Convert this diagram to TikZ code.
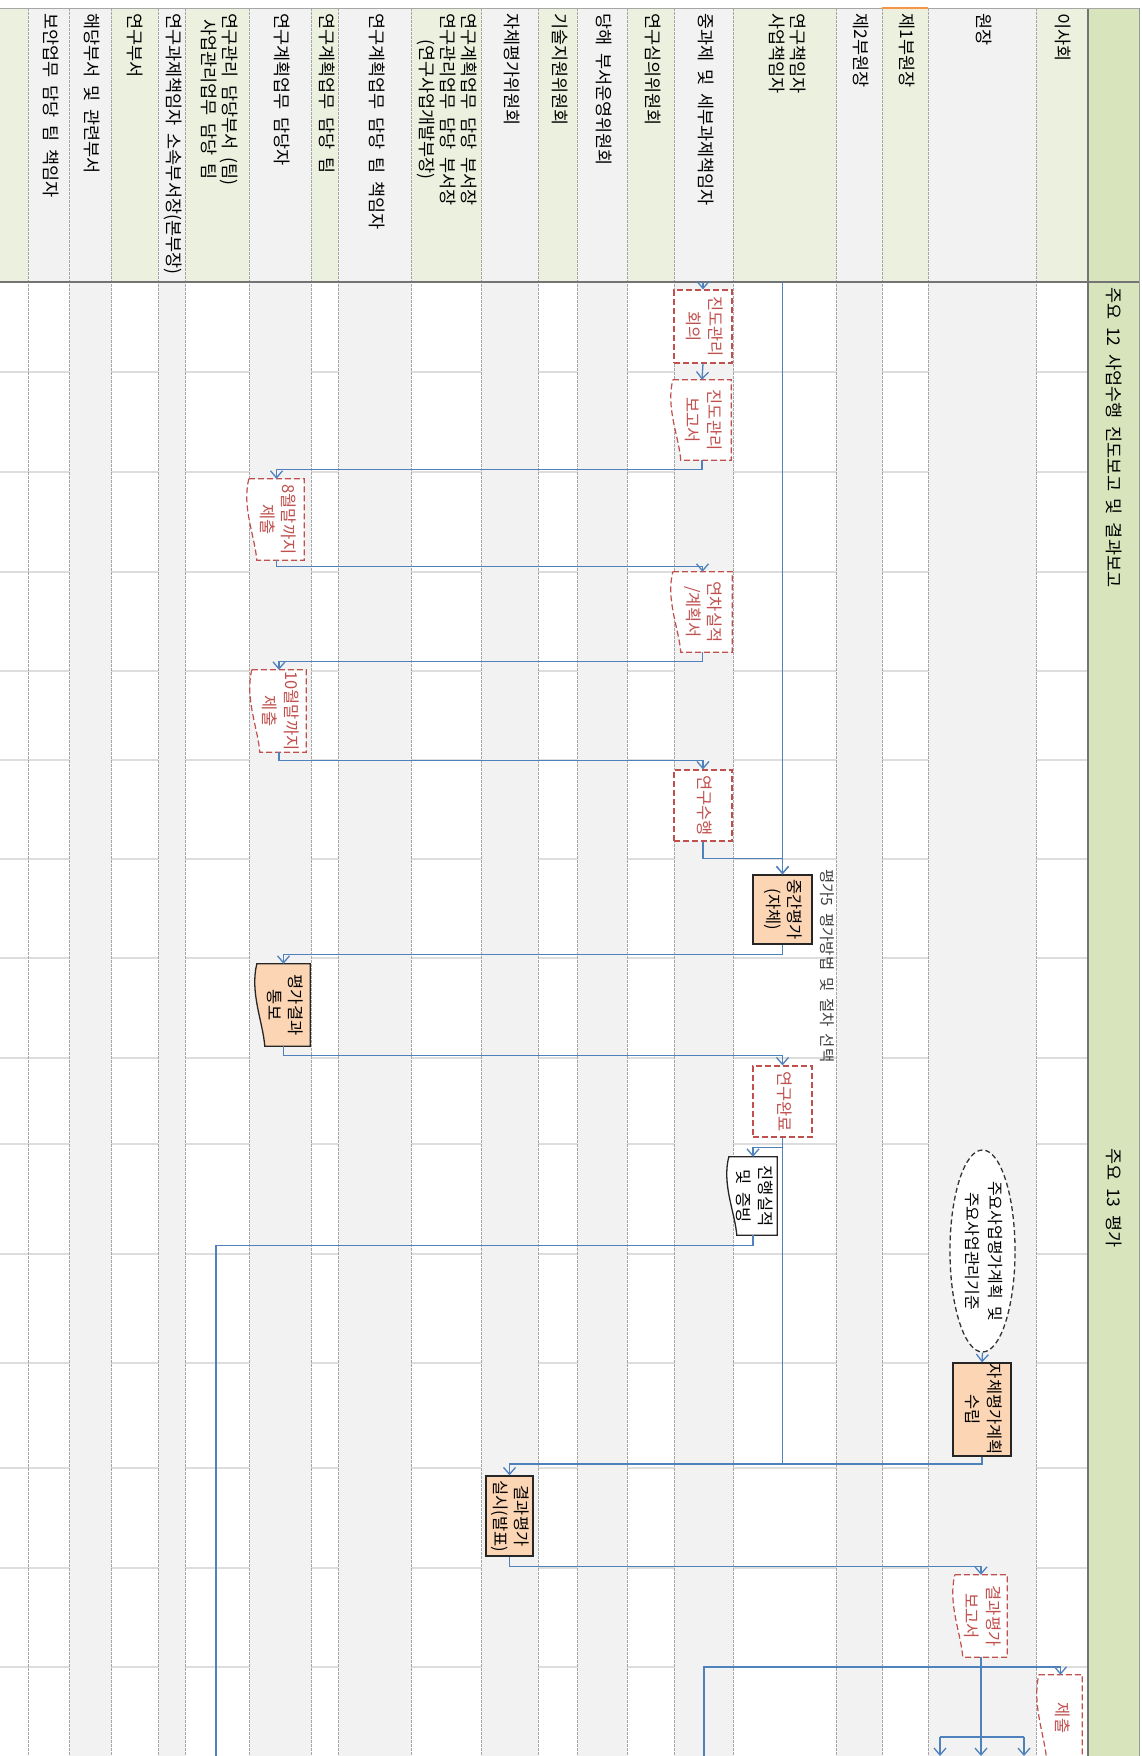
\documentclass[tikz,border=0pt]{standalone}
\usepackage{graphicx}
\usepackage{fontspec}
\newfontfamily\kr[WordSpace=2]{Noto Sans CJK KR}
\usetikzlibrary{arrows.meta,shapes.geometric,calc}
\definecolor{hdrgreen}{HTML}{EBF1DE}
\definecolor{lanegray}{HTML}{F2F2F2}
\definecolor{colgreen}{HTML}{D7E4BC}
\definecolor{rowline}{HTML}{DDDDDD}
\definecolor{laneline}{HTML}{A6A6A6}
\definecolor{flowblue}{HTML}{4F81BD}
\definecolor{redline}{HTML}{C0504D}
\definecolor{orangefill}{HTML}{FCD5B4}
\definecolor{selorange}{HTML}{F79646}
\newcommand{\vtext}[1]{\rotatebox{-90}{\begin{tabular}{@{}c@{}}#1\end{tabular}}}
\newcommand{\docpath}[1]{(#1.north west) -- (#1.north east) -- (#1.south east) -- ([xshift=8pt]#1.south west) .. controls ($(#1.south west)!0.3!(#1.north west)+(6,0)$) and ($(#1.south west)!0.65!(#1.north west)+(-7,0)$) .. (#1.north west) -- cycle}
\pgfdeclarelayer{lanes}
\pgfdeclarelayer{shapes}
\pgfsetlayers{lanes,shapes,main}
\begin{document}
\begin{tikzpicture}[x=1pt,y=-1pt,
  lanelabel/.style={anchor=north, inner sep=0pt, font=\kr\fontsize{17.5}{21}\selectfont, text=black},
  boxtext/.style={inner sep=0pt, font=\kr\fontsize{16.5}{21.5}\selectfont},
  redbox/.style={boxtext, draw=redline, dash pattern=on 6pt off 3pt, line width=1.2pt, fill=white, text=redline},
  orangebox/.style={boxtext, draw=black!85, line width=1.3pt, fill=orangefill, text=black},
  reddoc/.style={boxtext, text=redline, append after command={\pgfextra{\begin{pgfonlayer}{shapes}\filldraw[fill=white, draw=redline, dash pattern=on 6pt off 3pt, line width=1.2pt] \docpath{\tikzlastnode};\end{pgfonlayer}}}},
  blackdoc/.style={boxtext, text=black, append after command={\pgfextra{\begin{pgfonlayer}{shapes}\filldraw[fill=#1, draw=black!85, line width=1.3pt] \docpath{\tikzlastnode};\end{pgfonlayer}}}},
  flow/.style={draw=flowblue, line width=1.3pt, -{Straight Barb[length=7pt,width=12pt]}},
  flowline/.style={draw=flowblue, line width=1.3pt}]
\useasboundingbox (0,0) rectangle (1142,1756);
\begin{pgfonlayer}{lanes}
\fill[white] (0,0) rectangle (1142,1756);
\foreach \a/\b in {0/28,111/158,185/249,311/338,411/481,538/577,627/674,733/836,882/928,1036/1088}
  \fill[hdrgreen] (\a,8) rectangle (\b,282);
\foreach \a/\b in {28/69,69/111,158/185,249/311,338/411,481/538,577/627,674/733,836/882,928/1036}
  \fill[lanegray] (\a,8) rectangle (\b,282);
\foreach \y in {372,472,572,671,760,859,958,1058,1144,1254,1363,1468,1568,1667}
  \draw[rowline, line width=1.2pt] (0,\y) -- (1088,\y);
\foreach \a/\b in {69/111,158/185,249/311,338/411,481/538,577/627,674/733,836/882,928/1036}
  \fill[lanegray] (\a,282) rectangle (\b,1756);
\foreach \x in {28,69,111,158,185,249,311,338,411,481,538,577,627,674,733,836,882,928,1036}
  \draw[laneline, dash pattern=on 2.5pt off 1.5pt, line width=1pt] (\x,8) -- (\x,1756);
\fill[colgreen] (1088,8) rectangle (1139,1756);
\draw[black!55, line width=1.6pt] (1088,8) -- (1088,1756);
\draw[black!40, line width=0.8pt] (1139,8) -- (1139,1756);
\draw[black!55, line width=2pt] (0,282) -- (1139,282);
\draw[black!35, line width=1pt] (0,8) -- (1139,8);
\draw[selorange, line width=1.5pt] (882,8) -- (928,8);
\end{pgfonlayer}

% lane labels
\node[lanelabel] (l1) at (48.5,13) {\vtext{보안업무 담당 팀 책임자}};
\node[lanelabel] (l2) at (90,13) {\vtext{해당부서 및 관련부서}};
\node[lanelabel] (l3) at (133,13) {\vtext{연구부서}};
\node[lanelabel] (l4) at (171.5,13) {\vtext{연구과제책임자 소속부서장(본부장)}};
\node[lanelabel] (l5) at (217,13) {\vtext{연구관리 담당부서 (팀)\\사업관리업무 담당 팀}};
\node[lanelabel] (l6) at (280,13) {\vtext{연구계획업무 담당자}};
\node[lanelabel] (l7) at (324.5,13) {\vtext{연구계획업무 담당 팀}};
\node[lanelabel] (l8) at (374.5,13) {\vtext{연구계획업무 담당 팀 책임자}};
\node[lanelabel] (l9) at (446,13) {\vtext{연구계획업무 담당 부서장\\연구관리업무 담당 부서장\\(연구사업개발부장)}};
\node[lanelabel] (l10) at (510,13) {\vtext{자체평가위원회}};
\node[lanelabel] (l11) at (558,13) {\vtext{기술지원위원회}};
\node[lanelabel] (l12) at (602,13) {\vtext{당해 부서운영위원회}};
\node[lanelabel] (l13) at (650.5,13) {\vtext{연구심의위원회}};
\node[lanelabel] (l14) at (703.5,13) {\vtext{중과제 및 세부과제책임자}};
\node[lanelabel] (l15) at (785,13) {\vtext{연구책임자\\사업책임자}};
\node[lanelabel] (l16) at (859,13) {\vtext{제2부원장}};
\node[lanelabel] (l17) at (905,13) {\vtext{제1부원장}};
\node[lanelabel] (l18) at (982,13) {\vtext{원장}};
\node[lanelabel] (l19) at (1061,13) {\vtext{이사회}};

% phase labels
\node[lanelabel] (p1) at (1112,287) {\vtext{주요 12 사업수행 진도보고 및 결과보고}};
\node[lanelabel] (p2) at (1112,1148) {\vtext{주요 13 평가}};

% process nodes
\node[redbox, minimum width=58pt, minimum height=73pt] (n1) at (703,326.5) {\vtext{진도관리\\회의}};
\node[reddoc, minimum width=58pt, minimum height=80pt] (n2) at (702,420) {\vtext{진도관리\\보고서}};
\node[reddoc, minimum width=55pt, minimum height=81pt] (n3) at (276.5,519.5) {\vtext{8월말까지\\제출}};
\node[reddoc, minimum width=59pt, minimum height=80pt] (n4) at (702.5,612) {\vtext{연차실적\\/계획서}};
\node[reddoc, minimum width=54pt, minimum height=82pt] (n5) at (279,711) {\vtext{10월말까지\\제출}};
\node[redbox, minimum width=58pt, minimum height=71pt] (n6) at (703,805.5) {\vtext{연구수행}};
\node[orangebox, minimum width=59pt, minimum height=69pt] (n7) at (782.5,909.5) {\vtext{중간평가\\(자체)}};
\node[anchor=north, inner sep=0pt, font=\kr\fontsize{15.5}{18}\selectfont, text=black!75] (lbl) at (825,869) {\vtext{평가5 평가방법 및 절차 선택}};
\node[blackdoc=orangefill, minimum width=53pt, minimum height=82pt] (n8) at (283.5,1005) {\vtext{평가결과\\통보}};
\node[redbox, minimum width=59pt, minimum height=71pt] (n9) at (782.5,1101.5) {\vtext{연구완료}};
\node[blackdoc=white, minimum width=48pt, minimum height=78pt] (n10) at (753,1196) {\vtext{진행실적\\및 증빙}};
\node[ellipse, draw=black!80, dash pattern=on 5pt off 3pt, line width=1.3pt, fill=white, minimum width=59pt, minimum height=202pt, inner sep=0pt, font=\kr\fontsize{16}{23}\selectfont] (n11) at (982.5,1251) {\vtext{주요사업평가계획 및\\주요사업관리기준}};
\node[orangebox, minimum width=58pt, minimum height=93pt] (n12) at (982,1409.5) {\vtext{자체평가계획\\수립}};
\node[orangebox, minimum width=47pt, minimum height=80pt] (n13) at (509.5,1516) {\vtext{결과평가\\실시(발표)}};
\node[reddoc, minimum width=52pt, minimum height=82pt] (n14) at (981,1616) {\vtext{결과평가\\보고서}};
\node[reddoc, minimum width=43pt, minimum height=86pt] (n15) at (1060.5,1718) {\vtext{제출}};

% connector end points
\coordinate (start1) at (703,282);
\coordinate (start2) at (782.5,282);
\coordinate (j1) at (782.5,1464);
\coordinate (bot1) at (216,1756);
\coordinate (bot2) at (981,1756);
\coordinate (bot3) at (704,1756);
\coordinate (j2) at (704,1667);
\coordinate (brL) at (940,1737);
\coordinate (brR) at (1024,1737);
\coordinate (bL) at (940,1756);
\coordinate (bR) at (1024,1756);

% connectors
\draw[flow] (start1) -- (n1.north);
\draw[flow] (n1.south) -- (n2.north);
\draw[flow] (n2.south) -- ++(0,9) -| (n3.north);
\draw[flow] (n3.south) -- ++(0,6) -| (n4.north);
\draw[flow] (n4.south) -- ++(0,9) -| (n5.north);
\draw[flow] (n5.south) -- ++(0,8) -| (n6.north);
\draw[flow] (n6.south) -- ++(0,17) -| (n7.north);
\draw[flow] (start2) -- (n7.north);
\draw[flow] (n7.south) -- ++(0,10) -| (n8.north);
\draw[flow] (n8.south) -- ++(0,9) -| (n9.north);
\draw[flow] (n9.south) -- ++(0,10) -| (n10.north);
\draw[flowline] (n9.south) -- (j1);
\draw[flow] (j1) -| (n13.north);
\draw[flowline] (n12.south) |- (j1);
\draw[flowline] (n10.south) -- ++(0,10) -| (bot1);
\draw[flow] (n11.south) -- (n12.north);
\draw[flow] (n13.south) -- ++(0,10) -| (n14.north);
\draw[flow] (n14.south) -- (bot2);
\draw[flowline] (brL) -- (brR);
\draw[flow] (brL) -- (bL);
\draw[flow] (brR) -- (bR);
\draw[flow] (bot3) -- (j2) -| (n15.north);
\end{tikzpicture}
\end{document}
